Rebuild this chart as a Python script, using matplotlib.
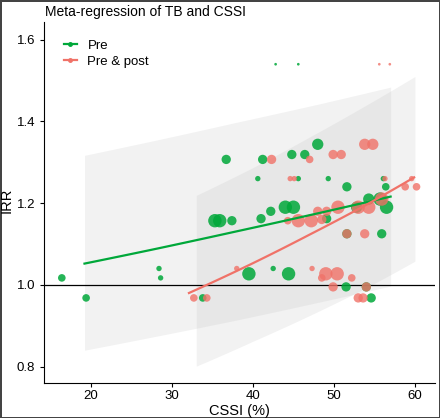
import numpy as np
import matplotlib
matplotlib.use("Agg")
import matplotlib.pyplot as plt
from matplotlib.lines import Line2D

plt.rcParams['font.family'] = ['Liberation Sans', 'DejaVu Sans']

# --- data ---
# Pre studies: CSSI (%), IRR, relative weight
pre_cssi = [16.4, 19.4, 28.4, 28.6, 33.8, 35.3, 35.9, 36.7, 37.4, 39.5,
            40.6, 41.0, 41.2, 42.2, 42.5, 42.8, 44.0, 45.0, 44.4, 44.8,
            45.6, 45.6, 46.4, 48.0, 49.1, 49.3, 51.5, 51.6, 51.6, 52.8,
            54.0, 54.3, 54.6, 55.7, 55.9, 56.1, 56.4, 56.5]
pre_irr = [1.017, 0.968, 1.040, 1.017, 0.968, 1.157, 1.157, 1.307, 1.157, 1.027,
           1.260, 1.162, 1.307, 1.180, 1.040, 1.540, 1.190, 1.190, 1.027, 1.319,
           1.260, 1.540, 1.319, 1.344, 1.162, 1.260, 0.995, 1.240, 1.125, 1.190,
           0.995, 1.210, 0.968, 1.210, 1.125, 1.260, 1.240, 1.190]
pre_w = [2, 2, 1, 1, 2, 6.2, 6.2, 3, 3, 6.2,
         1, 3, 3, 3, 1, 0.25, 6.2, 6.2, 6.2, 3,
         1, 0.25, 3, 4.4, 3, 1, 3, 3, 3, 4.4,
         3, 4.4, 3, 6.2, 3, 1, 2, 6.2]

# Pre & post studies
post_cssi = [32.7, 34.3, 38.0, 42.3, 44.3, 44.6, 45.1, 45.6, 47.0, 47.2,
             47.3, 48.0, 48.5, 48.5, 49.0, 49.1, 49.9, 49.9, 50.4, 50.5,
             50.9, 51.6, 52.2, 53.0, 53.0, 53.6, 53.8, 53.8, 54.0, 54.3,
             54.8, 55.6, 55.9, 56.3, 56.9, 58.8, 59.6, 60.2]
post_irr = [0.968, 0.968, 1.040, 1.307, 1.157, 1.260, 1.260, 1.157, 1.307, 1.157,
            1.040, 1.180, 1.160, 1.017, 1.027, 1.180, 0.995, 1.319, 1.027, 1.190,
            1.319, 1.125, 1.017, 0.968, 1.190, 0.968, 1.125, 1.344, 0.995, 1.190,
            1.344, 1.540, 1.210, 1.260, 1.540, 1.240, 1.260, 1.240]
post_w = [2, 2, 1, 3, 2, 1, 1, 6.2, 2, 6.2,
          1, 3, 3, 2, 6.2, 3, 3, 3, 6.2, 6.2,
          3, 3, 2, 3, 6.2, 3, 3, 4.4, 3, 6.2,
          4.4, 0.25, 6.2, 1, 0.25, 2, 1, 2]

# fitted lines and confidence bands
pre_fit_x = [19.2, 28, 38, 48, 57]
pre_fit = [1.052, 1.088, 1.131, 1.175, 1.216]
pre_lo = [0.840, 0.874, 0.914, 0.957, 0.997]
pre_hi = [1.317, 1.354, 1.398, 1.442, 1.484]

post_fit_x = [32.1, 40, 47, 54, 59.9]
post_fit = [0.980, 1.053, 1.123, 1.196, 1.263]
post_band_x = [33, 40, 47, 54, 60]
post_lo = [0.801, 0.862, 0.925, 0.993, 1.058]
post_hi = [1.219, 1.287, 1.362, 1.440, 1.510]

green = '#00a83a'
red = '#f07268'

fig = plt.figure(figsize=(4.4, 4.18), dpi=100)
fig.patch.set_edgecolor('#444444')
fig.patch.set_linewidth(2)
ax = fig.add_axes([0.1, 0.084, 0.889, 0.863])

# bands (drawn as smooth curves in log space)
for bx, lo, hi in [(pre_fit_x, pre_lo, pre_hi), (post_band_x, post_lo, post_hi)]:
    xs = np.linspace(bx[0], bx[-1], 60)
    ylo = np.exp(np.interp(xs, bx, np.log(lo)))
    yhi = np.exp(np.interp(xs, bx, np.log(hi)))
    ax.fill_between(xs, ylo, yhi, color='#b8b8b8', alpha=0.18, lw=0)

ax.axhline(1.0, color='black', lw=0.9)

scale = 15
ax.scatter(pre_cssi, pre_irr, s=np.array(pre_w) * scale, color=green,
           alpha=0.85, lw=0, zorder=3)
ax.scatter(post_cssi, post_irr, s=np.array(post_w) * scale, color=red,
           alpha=0.8, lw=0, zorder=3)

xs = np.linspace(pre_fit_x[0], pre_fit_x[-1], 60)
ax.plot(xs, np.exp(np.interp(xs, pre_fit_x, np.log(pre_fit))), color=green, lw=1.6, zorder=4)
xs = np.linspace(post_fit_x[0], post_fit_x[-1], 60)
ax.plot(xs, np.exp(np.interp(xs, post_fit_x, np.log(post_fit))), color=red, lw=1.6, zorder=4)

ax.set_xlim(14.2, 62.5)
ax.set_ylim(0.76, 1.643)
ax.set_xticks([20, 30, 40, 50, 60])
ax.set_yticks([0.8, 1.0, 1.2, 1.4, 1.6])
ax.set_yticklabels(['0.8', '1.0', '1.2', '1.4', '1.6'])
ax.tick_params(labelsize=9.5, length=3, colors='black')
ax.tick_params(axis='x', pad=2)
for s in ['top', 'right']:
    ax.spines[s].set_visible(False)
ax.set_xlabel('CSSI (%)', fontsize=10.5)
ax.set_ylabel('IRR', fontsize=10.5)
ax.xaxis.set_label_coords(0.5, -0.058)
ax.yaxis.set_label_coords(-0.077, 0.507)
fig.text(0.103, 0.972, 'Meta-regression of TB and CSSI', fontsize=10, va='center')

handles = [Line2D([], [], color=green, lw=1.6, marker='o', markersize=2.5),
           Line2D([], [], color=red, lw=1.6, marker='o', markersize=2.5)]
ax.legend(handles, ['Pre', 'Pre & post'], loc='upper left', frameon=False,
          fontsize=9.5, handlelength=1.0, bbox_to_anchor=(0.02, 0.985),
          labelspacing=0.3)

fig.savefig('out.png', dpi=100)
